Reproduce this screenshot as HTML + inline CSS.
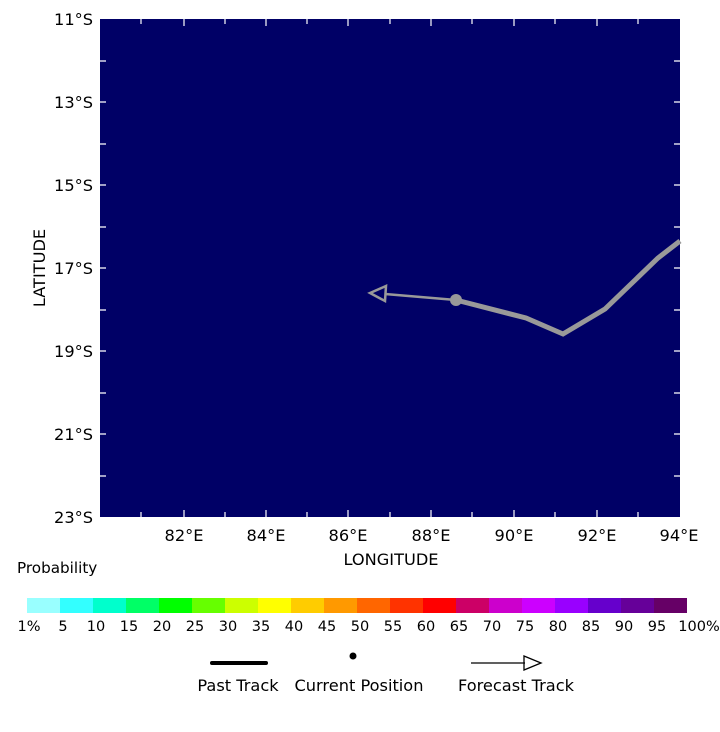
<!DOCTYPE html>
<html><head><style>body{margin:0;background:#fff}svg text{font-family:"DejaVu Sans","Liberation Sans",sans-serif;font-size:14.5px;fill:#000}.b{font-size:16.2px}</style></head><body>
<svg width="720" height="727" viewBox="0 0 720 727">
<rect x="100" y="19" width="580" height="498" fill="#000066"/>
<g stroke="#fff" stroke-width="1.2">
<path d="M100 61h6M100 102h6M100 144h6M100 185h6M100 227h6M100 268h6M100 310h6M100 351h6M100 393h6M100 434h6M100 476h6"/>
<path d="M680 61h-6M680 102h-6M680 144h-6M680 185h-6M680 227h-6M680 268h-6M680 310h-6M680 351h-6M680 393h-6M680 434h-6M680 476h-6"/>
<path d="M141 517v-5M184 517v-7M225 517v-5M266 517v-7M307 517v-5M348 517v-7M390 517v-5M431 517v-7M472 517v-5M514 517v-7M555 517v-5M597 517v-7M638 517v-5"/>
<path d="M141 19v5M184 19v7M225 19v5M266 19v7M307 19v5M348 19v7M390 19v5M431 19v7M472 19v5M514 19v7M555 19v5M597 19v7M638 19v5"/>
</g>
<g fill="#999" stroke="#999">
<polyline points="456,300 526,318 563,334 605,309 658,258 680,241" fill="none" stroke-width="5"/>
<line x1="456" y1="300" x2="385" y2="294" stroke-width="2.5"/>
<polygon points="370,293 386,286 385,301" fill="none" stroke-width="2.5"/>
<circle cx="456" cy="300" r="6" stroke="none"/>
</g>
<g text-anchor="end">
<text x="93" y="25" class="b">11°S</text><text x="93" y="108" class="b">13°S</text><text x="93" y="191" class="b">15°S</text><text x="93" y="274" class="b">17°S</text><text x="93" y="357" class="b">19°S</text><text x="93" y="440" class="b">21°S</text><text x="93" y="523" class="b">23°S</text>
</g>
<g text-anchor="middle">
<text x="184" y="541" class="b">82°E</text><text x="266" y="541" class="b">84°E</text><text x="348" y="541" class="b">86°E</text><text x="431" y="541" class="b">88°E</text><text x="514" y="541" class="b">90°E</text><text x="597" y="541" class="b">92°E</text><text x="679" y="541" class="b">94°E</text>
<text x="391" y="565" class="b">LONGITUDE</text>
</g>
<text x="45" y="268" text-anchor="middle" class="b" transform="rotate(-90 45 268)">LATITUDE</text>
<text x="17" y="573" style="font-size:15.2px">Probability</text>
<g>
<rect x="27" y="598" width="34" height="15" fill="#99ffff"/><rect x="60" y="598" width="34" height="15" fill="#33ffff"/><rect x="93" y="598" width="34" height="15" fill="#00ffcc"/><rect x="126" y="598" width="34" height="15" fill="#00ff66"/><rect x="159" y="598" width="34" height="15" fill="#00ff00"/><rect x="192" y="598" width="34" height="15" fill="#66ff00"/><rect x="225" y="598" width="34" height="15" fill="#ccff00"/><rect x="258" y="598" width="34" height="15" fill="#ffff00"/><rect x="291" y="598" width="34" height="15" fill="#ffcc00"/><rect x="324" y="598" width="34" height="15" fill="#ff9900"/><rect x="357" y="598" width="34" height="15" fill="#ff6600"/><rect x="390" y="598" width="34" height="15" fill="#ff3300"/><rect x="423" y="598" width="34" height="15" fill="#ff0000"/><rect x="456" y="598" width="34" height="15" fill="#cc0066"/><rect x="489" y="598" width="34" height="15" fill="#cc00cc"/><rect x="522" y="598" width="34" height="15" fill="#cc00ff"/><rect x="555" y="598" width="34" height="15" fill="#9900ff"/><rect x="588" y="598" width="34" height="15" fill="#6600cc"/><rect x="621" y="598" width="34" height="15" fill="#660099"/><rect x="654" y="598" width="33" height="15" fill="#660066"/>
</g>
<g text-anchor="middle">
<text x="29" y="631">1%</text><text x="63" y="631">5</text><text x="96" y="631">10</text><text x="129" y="631">15</text><text x="162" y="631">20</text><text x="195" y="631">25</text><text x="228" y="631">30</text><text x="261" y="631">35</text><text x="294" y="631">40</text><text x="327" y="631">45</text><text x="360" y="631">50</text><text x="393" y="631">55</text><text x="426" y="631">60</text><text x="459" y="631">65</text><text x="492" y="631">70</text><text x="525" y="631">75</text><text x="558" y="631">80</text><text x="591" y="631">85</text><text x="624" y="631">90</text><text x="657" y="631">95</text><text x="699" y="631">100%</text>
</g>
<line x1="212" y1="663" x2="266" y2="663" stroke="#000" stroke-width="4" stroke-linecap="round"/>
<circle cx="353" cy="656" r="3.5" fill="#000"/>
<line x1="471" y1="663" x2="525" y2="663" stroke="#000" stroke-width="1.3"/>
<polygon points="524,656 541,663 524,670" fill="none" stroke="#000" stroke-width="1.3"/>
<g text-anchor="middle">
<text x="238" y="691" class="b">Past Track</text><text x="359" y="691" class="b">Current Position</text><text x="516" y="691" class="b">Forecast Track</text>
</g>
</svg>
</body></html>
